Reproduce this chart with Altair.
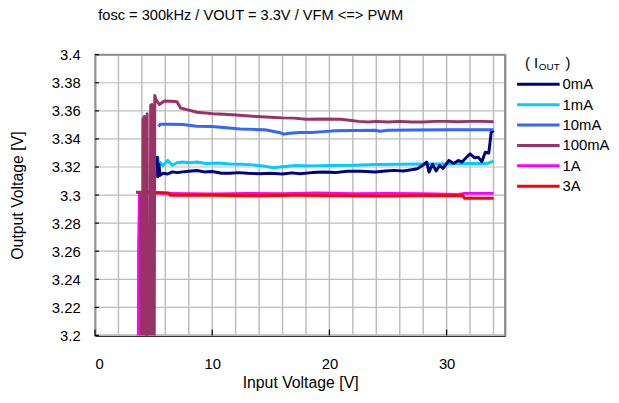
import altair as alt
import pandas as pd

FONT = "Liberation Sans"

# ---------------- data ----------------
series_names = ["0mA", "1mA", "10mA", "100mA", "1A", "3A"]
series_colors = ["#000080", "#00CCFF", "#3366FF", "#993366", "#FF00FF", "#FF0000"]

v0_x = [5.25, 5.3, 5.35, 5.45, 5.55, 5.8, 6.2, 6.6, 7.0, 7.5, 8.0, 8.7, 9.3, 10, 10.8, 11.5, 12.3, 13, 14, 15,
        16, 16.8, 17.5, 18.5, 19.5, 20.5, 21.5, 22.7, 23.9, 24.8, 25.5, 26.3, 27, 27.5, 28.0, 28.3, 28.5, 28.8,
        29.1, 29.4, 29.7, 30.2, 30.6, 31.0, 31.3, 31.6, 32.0, 32.4, 32.7, 33.0, 33.3, 33.6, 33.8, 34.0]
v0_y = [3.318, 3.327, 3.313, 3.322, 3.314, 3.3155, 3.315, 3.3165, 3.316, 3.3165, 3.317, 3.3175, 3.3165, 3.3168,
        3.3155, 3.3155, 3.316, 3.3155, 3.3152, 3.3155, 3.315, 3.3158, 3.3152, 3.316, 3.3165, 3.316, 3.317, 3.317,
        3.3165, 3.3172, 3.3176, 3.3172, 3.318, 3.3188, 3.3215, 3.3235, 3.3164, 3.322, 3.3172, 3.321, 3.319,
        3.3247, 3.3225, 3.3247, 3.3235, 3.326, 3.3294, 3.3265, 3.327, 3.3238, 3.3305, 3.330, 3.3446, 3.346]

v1_x = [5.3, 5.35, 5.45, 5.55, 5.8, 6.2, 6.6, 7.0, 7.5, 8.0, 8.7, 9.5, 10.5, 11.5, 12.5, 13.5, 14.5, 15.2, 16,
        17.1, 18.5, 20, 22, 24, 26, 28, 30, 32, 33.5, 34]
v1_y = [3.318, 3.327, 3.320, 3.3235, 3.321, 3.3247, 3.3212, 3.323, 3.3235, 3.323, 3.3235, 3.3225, 3.3228, 3.3222,
        3.322, 3.3215, 3.3205, 3.3195, 3.3202, 3.321, 3.3208, 3.321, 3.3212, 3.3218, 3.322, 3.3222, 3.3222,
        3.3225, 3.3225, 3.3242]

v10_x = [5.4, 5.6, 6.5, 7.5, 8.7, 10, 11.2, 12.4, 13.5, 14.5, 15.7, 16.1, 16.6, 17.5, 18.5, 19.5, 20.5, 22,
         23.9, 24.3, 25, 27, 30, 32, 34]
v10_y = [3.349, 3.3505, 3.3505, 3.3503, 3.349, 3.3488, 3.348, 3.347, 3.3468, 3.3465, 3.3446, 3.3434, 3.344,
         3.3445, 3.3446, 3.3452, 3.3458, 3.346, 3.3462, 3.3455, 3.3462, 3.3464, 3.3465, 3.3465, 3.3465]

v100_x = [3.5, 3.9, 3.95, 4.05, 4.1, 4.2, 4.25, 4.4, 4.45, 4.5, 4.7, 4.75, 4.85, 4.9, 5.05, 5.1, 5.2, 5.5, 5.9,
          6.5, 7.0, 7.3, 8.0, 8.7, 10, 11, 12, 13.8, 15, 16, 17, 18, 19.5, 21, 21.5, 22.5, 23.3, 24, 25, 26, 27,
          28, 29, 30, 31, 32, 33, 34]
v100_y = [3.302, 3.302, 3.18, 3.18, 3.354, 3.356, 3.18, 3.18, 3.358, 3.18, 3.18, 3.364, 3.3645, 3.18, 3.18,
          3.371, 3.368, 3.3645, 3.367, 3.3668, 3.3665, 3.362, 3.3605, 3.359, 3.358, 3.3575, 3.357, 3.356,
          3.3555, 3.355, 3.3548, 3.354, 3.3542, 3.354, 3.3535, 3.3525, 3.352, 3.3525, 3.352, 3.3525, 3.352,
          3.352, 3.3525, 3.3525, 3.3522, 3.3525, 3.3525, 3.3522]

v1a_x = [3.7, 3.72, 3.8, 5, 6.3, 10, 13, 16, 19, 22, 25, 28, 31, 31.5, 34]
v1a_y = [3.18, 3.262, 3.3015, 3.3015, 3.3012, 3.3008, 3.3012, 3.301, 3.3015, 3.301, 3.3012, 3.301, 3.3005,
         3.3012, 3.3012]

v3a_x = [4.4, 4.4, 5, 6.3, 6.4, 10, 14, 17, 20, 24, 28, 31.4, 31.5, 34]
v3a_y = [3.18, 3.302, 3.3018, 3.3015, 3.2998, 3.2998, 3.2995, 3.2998, 3.2996, 3.2994, 3.2996, 3.2995,
         3.2978, 3.2978]

x_grid_values = list(range(0, 36, 2))
y_tick_values = [3.2, 3.22, 3.24, 3.26, 3.28, 3.3, 3.32, 3.34, 3.36, 3.38, 3.4]
x_tick_values = [0, 10, 20, 30]

series_x = {"0mA": v0_x, "1mA": v1_x, "10mA": v10_x, "100mA": v100_x, "1A": v1a_x, "3A": v3a_x}
series_y = {"0mA": v0_y, "1mA": v1_y, "10mA": v10_y, "100mA": v100_y, "1A": v1a_y, "3A": v3a_y}
color_of = dict(zip(series_names, series_colors))

W, H = 415, 284
GRID = "#bdbdbd"
FRAME = "#8c8c8c"

x_scale = alt.Scale(domain=[0, 35], nice=False, zero=False)
y_scale = alt.Scale(domain=[3.2, 3.4], nice=False, zero=False)

x_axis = alt.Axis(values=x_grid_values,
                  labelExpr="datum.value % 10 == 0 ? datum.label : ''",
                  title="Input Voltage [V]", ticks=False, grid=False,
                  domainColor="#000000", domainWidth=1.5, labelFont=FONT, labelFontSize=15,
                  labelColor="#000000", labelPadding=21, labelOverlap=False, titleFont=FONT,
                  titleFontSize=16, titleFontWeight="normal", titleColor="#000000", titlePadding=4)
y_axis = alt.Axis(values=y_tick_values, format=".2~f", title="Output Voltage [V]", ticks=False, grid=False,
                  domainColor="#222222", domainWidth=1.5,
                  labelFont=FONT, labelFontSize=15, labelColor="#000000", labelPadding=15,
                  labelOverlap=False, titleFont=FONT, titleFontSize=16, titleFontWeight="normal",
                  titleColor="#000000", titlePadding=26)


def X(field):
    return alt.X(field, scale=x_scale, axis=x_axis)


def Y(field):
    return alt.Y(field, scale=y_scale, axis=y_axis)


layers = []
# grid lines
layers.append(alt.Chart(pd.DataFrame({"g": x_grid_values})).mark_rule(stroke=GRID, strokeWidth=1.5).encode(
    x=X("g:Q"), y=alt.value(0), y2=alt.value(H)))
layers.append(alt.Chart(pd.DataFrame({"g": y_tick_values})).mark_rule(stroke=GRID, strokeWidth=1.2).encode(
    y=Y("g:Q"), x=alt.value(0), x2=alt.value(W)))

# frame: top and right edges of the plot area
frame_df = pd.DataFrame({"xv": [35], "yv": [3.4]})
layers.append(alt.Chart(frame_df).mark_rule(stroke=FRAME, strokeWidth=2).encode(
    x=X("xv:Q"), y=alt.value(0), y2=alt.value(H)))
layers.append(alt.Chart(frame_df).mark_rule(stroke=FRAME, strokeWidth=1.5).encode(
    y=Y("yv:Q"), x=alt.value(0), x2=alt.value(W)))

# inward ticks
layers.append(alt.Chart(pd.DataFrame({"t": y_tick_values})).mark_rule(color="#000000", strokeWidth=1.2).encode(
    y=Y("t:Q"), x=alt.value(0), x2=alt.value(4)))
layers.append(alt.Chart(pd.DataFrame({"t": x_tick_values})).mark_rule(color="#000000", strokeWidth=1.2).encode(
    x=X("t:Q"), y=alt.value(H), y2=alt.value(H - 6)))

draw_order = ["1A", "3A", "1mA", "0mA", "10mA", "100mA"]
for name in draw_order:
    df = pd.DataFrame({"vin": series_x[name], "vout": series_y[name]})
    df["i"] = range(len(df))
    layers.append(alt.Chart(df).mark_line(color=color_of[name], strokeWidth=3, clip=True,
                                          strokeJoin="round").encode(
        x=X("vin:Q"), y=Y("vout:Q"), order="i:Q"))

# legend (manual, outside the plot)
leg_df = pd.DataFrame({"name": series_names, "color": series_colors,
                       "py": [30 + i * 20.6 for i in range(len(series_names))]})
layers.append(alt.Chart(leg_df).mark_rule(strokeWidth=3).encode(
    y=alt.Y("py:Q", scale=None), x=alt.value(427), x2=alt.value(470),
    color=alt.Color("color:N", scale=None)))
layers.append(alt.Chart(leg_df).mark_text(align="left", baseline="middle", font=FONT, fontSize=15,
                                          color="#000000").encode(
    y=alt.Y("py:Q", scale=None), x=alt.value(473), text="name:N"))

one = pd.DataFrame({"a": [0]})
layers.append(alt.Chart(one).mark_text(align="left", baseline="alphabetic", font=FONT, fontSize=15,
                                       color="#000000", text="( I").encode(x=alt.value(435), y=alt.value(13)))
layers.append(alt.Chart(one).mark_text(align="left", baseline="alphabetic", font=FONT, fontSize=10,
                                       color="#000000", text="OUT").encode(x=alt.value(449), y=alt.value(15)))
layers.append(alt.Chart(one).mark_text(align="left", baseline="alphabetic", font=FONT, fontSize=15,
                                       color="#000000", text=")").encode(x=alt.value(476), y=alt.value(13)))

chart = alt.layer(*layers).properties(
    width=W, height=H,
    background="white",
    title=alt.TitleParams("fosc = 300kHz / VOUT = 3.3V / VFM <=> PWM", font=FONT, fontSize=14.8,
                          fontWeight="normal", color="#000000", anchor="middle", offset=25, dx=-50),
    autosize=alt.AutoSizeParams(type="none"),
    padding={"left": 88, "top": 45, "right": 107, "bottom": 56},
).configure_view(stroke="#9a9a9a", strokeWidth=2)

chart.save("out.html", embed_options={"renderer": "svg", "actions": False})
